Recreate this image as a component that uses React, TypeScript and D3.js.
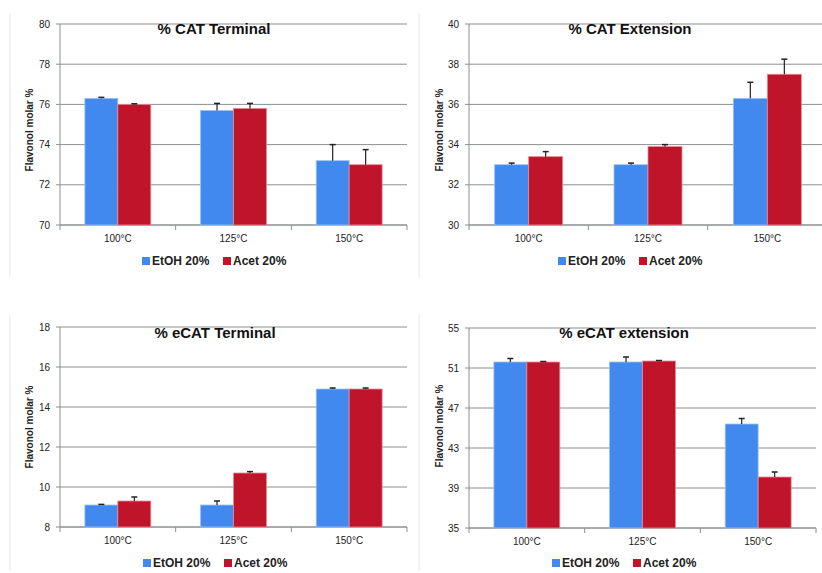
import React from "react";
import * as d3 from "d3";

const categories = ["100°C", "125°C", "150°C"];
const seriesNames = ["EtOH 20%", "Acet 20%"];
const yLabel = "Flavonol molar %";

const titles = ["% CAT Terminal", "% CAT Extension", "% eCAT Terminal", "% eCAT extension"];

const catTerminalEtOH = [76.3, 75.7, 73.2];
const catTerminalAcet = [76.0, 75.8, 73.0];
const catTerminalEtOHErr = [0.05, 0.35, 0.8];
const catTerminalAcetErr = [0.03, 0.25, 0.75];
const catTerminalTicks = [70, 72, 74, 76, 78, 80];

const catExtEtOH = [33.0, 33.0, 36.3];
const catExtAcet = [33.4, 33.9, 37.5];
const catExtEtOHErr = [0.08, 0.08, 0.8];
const catExtAcetErr = [0.25, 0.1, 0.75];
const catExtTicks = [30, 32, 34, 36, 38, 40];

const ecatTerminalEtOH = [9.1, 9.1, 14.9];
const ecatTerminalAcet = [9.3, 10.7, 14.9];
const ecatTerminalEtOHErr = [0.03, 0.2, 0.05];
const ecatTerminalAcetErr = [0.2, 0.07, 0.05];
const ecatTerminalTicks = [8, 10, 12, 14, 16, 18];

const ecatExtEtOH = [51.6, 51.6, 45.4];
const ecatExtAcet = [51.6, 51.7, 40.1];
const ecatExtEtOHErr = [0.35, 0.5, 0.55];
const ecatExtAcetErr = [0.05, 0.05, 0.5];
const ecatExtTicks = [35, 39, 43, 47, 51, 55];

const COLORS = ["#4189ee", "#c0142a"];
const STROKES = ["#9cc3f5", "#e58a96"];

type PanelProps = {
  title: string;
  values: number[][];
  errors: number[][];
  ticks: number[];
  left: number;
  right: number;
  top: number;
  bottom: number;
  cx: number;
  titleY: number;
  yLabelX: number;
  yLabelY: number;
  legendY: number;
  clipRight: number;
  borderX: number;
  borderTop: number;
  borderBottom: number;
};

function Panel(p: PanelProps) {
  const y = d3
    .scaleLinear()
    .domain([p.ticks[0], p.ticks[p.ticks.length - 1]])
    .range([p.bottom, p.top]);
  const x0 = d3.scaleBand<string>().domain(categories).range([p.left, p.right]).padding(0);
  const groupW = x0.bandwidth() * 0.57;
  const x1 = d3.scaleBand<string>().domain(seriesNames).range([0, groupW]).padding(0);
  const font = "Arial, 'Liberation Sans', sans-serif";
  const gridRight = Math.min(p.right, p.clipRight);
  const boundaries = [p.left, ...categories.map((c) => (x0(c) as number) + x0.bandwidth())];
  return (
    <g>
      <line x1={p.borderX} x2={p.borderX} y1={p.borderTop} y2={p.borderBottom} stroke="#e6e6e6" strokeWidth={1} />
      {p.ticks.map((t) => (
        <g key={t}>
          <line x1={p.left - 4} x2={gridRight} y1={y(t)} y2={y(t)} stroke="#8c9090" strokeWidth={1} />
          <text x={p.left - 10} y={y(t) + 3.5} textAnchor="end" fontSize={10} fontFamily={font} fill="#222">
            {t}
          </text>
        </g>
      ))}
      <line x1={p.left} x2={p.left} y1={p.top} y2={p.bottom} stroke="#8c9090" strokeWidth={1} />
      <line x1={p.left} x2={gridRight} y1={p.bottom} y2={p.bottom} stroke="#8c9090" strokeWidth={1} />
      {boundaries.map((b, i) => (
        <line key={i} x1={b} x2={b} y1={p.bottom} y2={p.bottom + 5} stroke="#8c9090" strokeWidth={1} />
      ))}
      {categories.map((c, ci) => {
        const gx = (x0(c) as number) + (x0.bandwidth() - groupW) / 2;
        return (
          <g key={c}>
            {seriesNames.map((s, si) => {
              const v = p.values[si][ci];
              const e = p.errors[si][ci];
              const bx = gx + (x1(s) as number);
              const bw = x1.bandwidth();
              const mx = bx + bw / 2;
              return (
                <g key={s}>
                  <rect
                    x={bx}
                    y={y(v)}
                    width={bw}
                    height={p.bottom - y(v)}
                    fill={COLORS[si]}
                    stroke={STROKES[si]}
                    strokeWidth={0.8}
                  />
                  <line x1={mx} x2={mx} y1={y(v)} y2={y(v + e)} stroke="#222" strokeWidth={1.2} />
                  <line x1={mx - 3} x2={mx + 3} y1={y(v + e)} y2={y(v + e)} stroke="#222" strokeWidth={1.5} />
                </g>
              );
            })}
            <text
              x={(x0(c) as number) + x0.bandwidth() / 2}
              y={p.bottom + 17}
              textAnchor="middle"
              fontSize={10}
              fontFamily={font}
              fill="#222"
            >
              {c}
            </text>
          </g>
        );
      })}
      <text x={p.cx} y={p.titleY} textAnchor="middle" fontSize={15} fontWeight="bold" fontFamily={font} fill="#111">
        {p.title}
      </text>
      <text
        transform={`translate(${p.yLabelX},${p.yLabelY}) rotate(-90)`}
        textAnchor="middle"
        fontSize={10}
        fontWeight="bold"
        fontFamily={font}
        fill="#222"
      >
        {yLabel}
      </text>
      {seriesNames.map((s, si) => {
        const sx = p.cx - 72 + si * 81;
        return (
          <g key={s}>
            <rect x={sx} y={p.legendY - 8} width={8} height={8} fill={COLORS[si]} />
            <text x={sx + 10} y={p.legendY} fontSize={12} fontWeight="bold" fontFamily={font} fill="#222">
              {s}
            </text>
          </g>
        );
      })}
    </g>
  );
}

export default function App() {
  const W = 822;
  const H = 573;
  return (
    <svg width={W} height={H} style={{ position: "absolute", left: 0, top: 0, background: "#fff" }}>
      <rect x={0} y={0} width={W} height={H} fill="#fff" />
      <Panel
        title={titles[0]}
        values={[catTerminalEtOH, catTerminalAcet]}
        errors={[catTerminalEtOHErr, catTerminalAcetErr]}
        ticks={catTerminalTicks}
        left={60}
        right={407}
        top={24}
        bottom={225}
        cx={214}
        titleY={34}
        yLabelX={33}
        yLabelY={130}
        legendY={265}
        clipRight={822}
        borderX={10}
        borderTop={13}
        borderBottom={277}
      />
      <Panel
        title={titles[1]}
        values={[catExtEtOH, catExtAcet]}
        errors={[catExtEtOHErr, catExtAcetErr]}
        ticks={catExtTicks}
        left={469}
        right={827}
        top={24}
        bottom={225}
        cx={630}
        titleY={34}
        yLabelX={443}
        yLabelY={130}
        legendY={265}
        clipRight={822}
        borderX={419}
        borderTop={13}
        borderBottom={277}
      />
      <Panel
        title={titles[2]}
        values={[ecatTerminalEtOH, ecatTerminalAcet]}
        errors={[ecatTerminalEtOHErr, ecatTerminalAcetErr]}
        ticks={ecatTerminalTicks}
        left={60}
        right={407}
        top={327}
        bottom={527}
        cx={215}
        titleY={338}
        yLabelX={33}
        yLabelY={427}
        legendY={567}
        clipRight={822}
        borderX={10}
        borderTop={315}
        borderBottom={571}
      />
      <Panel
        title={titles[3]}
        values={[ecatExtEtOH, ecatExtAcet]}
        errors={[ecatExtEtOHErr, ecatExtAcetErr]}
        ticks={ecatExtTicks}
        left={469}
        right={816}
        top={328}
        bottom={528}
        cx={624}
        titleY={338}
        yLabelX={443}
        yLabelY={426}
        legendY={567}
        clipRight={822}
        borderX={419}
        borderTop={315}
        borderBottom={571}
      />
    </svg>
  );
}
